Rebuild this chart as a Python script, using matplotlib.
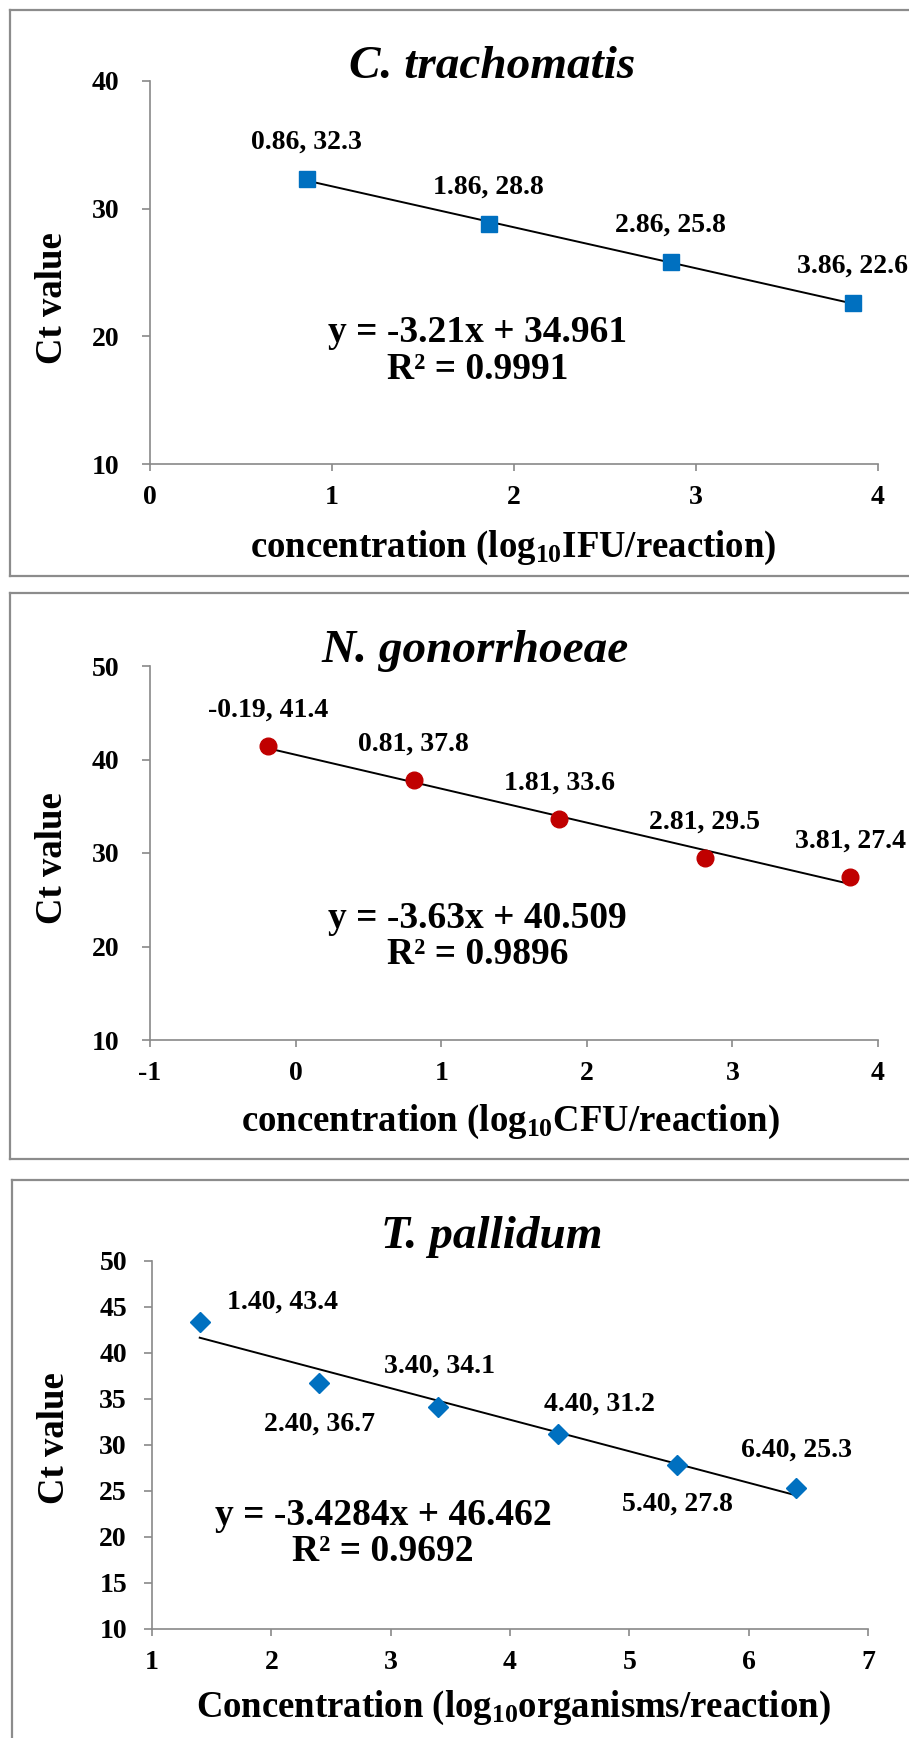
import matplotlib
matplotlib.use("Agg")
import numpy as np
import matplotlib.pyplot as plt
from matplotlib.lines import Line2D

plt.rcParams['font.family'] = ['Liberation Serif', 'DejaVu Serif']
plt.rcParams['font.weight'] = 'bold'
plt.rcParams['axes.unicode_minus'] = False
plt.rcParams['mathtext.fontset'] = 'custom'
plt.rcParams['mathtext.rm'] = 'Liberation Serif:bold'
plt.rcParams['mathtext.it'] = 'Liberation Serif:bold'
plt.rcParams['mathtext.bf'] = 'Liberation Serif:bold'

# data
ct_x = [0.86, 1.86, 2.86, 3.86]
ct_y = [32.3, 28.8, 25.8, 22.6]
ct_fit = (-3.21, 34.961, 0.9991)

ng_x = [-0.19, 0.81, 1.81, 2.81, 3.81]
ng_y = [41.4, 37.8, 33.6, 29.5, 27.4]
ng_fit = (-3.63, 40.509, 0.9896)

tp_x = [1.40, 2.40, 3.40, 4.40, 5.40, 6.40]
tp_y = [43.4, 36.7, 34.1, 31.2, 27.8, 25.3]
tp_fit = (-3.4284, 46.462, 0.9692)

W, H = 909, 1738
fig = plt.figure(figsize=(W / 100, H / 100), dpi=100)
fig.patch.set_facecolor('white')

GRAY = '#898989'
TICK_FS = 20
LABEL_FS = 20
EQ_FS = 27
AX_FS = 26.5
TITLE_FS = 34


def px_axes(l, t, r, b):
    return fig.add_axes([l / W, 1 - b / H, (r - l) / W, (b - t) / H])


def border(l, t, b):
    # left, top and bottom edges; right edge runs off the picture
    kw = dict(color='#8c8c8c', lw=1.6, transform=fig.transFigure)
    r = W + 20
    fig.add_artist(Line2D([l / W, l / W], [1 - t / H, 1 - b / H], **kw))
    fig.add_artist(Line2D([l / W, r / W], [1 - t / H, 1 - t / H], **kw))
    fig.add_artist(Line2D([l / W, r / W], [1 - b / H, 1 - b / H], **kw))


def style(ax, xlim, ylim, xstep, ystep, ypad):
    ax.set_xlim(*xlim)
    ax.set_ylim(*ylim)
    ax.set_xticks(np.arange(xlim[0], xlim[1] + 0.01, xstep))
    ax.set_yticks(np.arange(ylim[0], ylim[1] + 0.01, ystep))
    for s in ['top', 'right']:
        ax.spines[s].set_visible(False)
    for s in ['left', 'bottom']:
        ax.spines[s].set_color(GRAY)
        ax.spines[s].set_linewidth(1.2)
    ax.tick_params(axis='x', direction='out', length=5, width=1.2, color=GRAY,
                   labelsize=TICK_FS, pad=10)
    ax.tick_params(axis='y', direction='out', length=6, width=1.2, color=GRAY,
                   labelsize=TICK_FS, pad=ypad)
    for lab in ax.get_xticklabels() + ax.get_yticklabels():
        lab.set_fontweight('bold')
    ax.patch.set_alpha(0)


def panel(ax, xs, ys, fit, marker, ms, color, offsets):
    slope, icpt, r2 = fit
    xx = np.array([min(xs), max(xs)])
    ax.plot(xx, slope * xx + icpt, color='black', lw=1.4, zorder=2)
    ax.plot(xs, ys, linestyle='none', marker=marker, ms=ms, color=color,
            mec=color, zorder=3, clip_on=False)
    for (x, y), (dx, dy) in zip(zip(xs, ys), offsets):
        ax.annotate(f"{x:.2f}, {y:.1f}", (x, y), xytext=(dx, dy),
                    textcoords='offset pixels', ha='center', va='center',
                    fontsize=LABEL_FS, fontweight='bold', annotation_clip=False)


def equation(ax, fit, x, y):
    ax.text(x, y, f"y = {fit[0]}x + {fit[1]}\nR\u00b2 = {fit[2]}",
            transform=ax.transAxes, ha='center', va='center', fontsize=EQ_FS,
            fontweight='bold', linespacing=1.05)


def labels(title, tx, ty, yx, yy, xlabel, xx, xy):
    fig.text(tx / W, 1 - ty / H, title, ha='center', va='center',
             fontsize=TITLE_FS, fontweight='bold', style='italic')
    fig.text(yx / W, 1 - yy / H, "Ct value", rotation=90, ha='center',
             va='center', fontsize=AX_FS, fontweight='bold')
    fig.text(xx / W, 1 - xy / H, xlabel, ha='center', va='center',
             fontsize=AX_FS, fontweight='bold')


# C. trachomatis
border(10, 10, 576)
ax1 = px_axes(150, 81, 878, 464)
style(ax1, (0, 4), (10, 40), 1, 10, 16)
panel(ax1, ct_x, ct_y, ct_fit, 's', 12, '#0070C0', [(0, 37)] * 4)
equation(ax1, ct_fit, 0.45, 0.295)
labels("C. trachomatis", 492, 67, 52, 298,
       r"concentration (log$_{\mathrm{10}}$IFU/reaction)", 513, 548)

# N. gonorrhoeae
border(10, 593, 1159)
ax2 = px_axes(150, 666, 878, 1040)
style(ax2, (-1, 4), (10, 50), 1, 10, 16)
panel(ax2, ng_x, ng_y, ng_fit, 'o', 12, '#C00000', [(0, 36)] * 5)
equation(ax2, ng_fit, 0.45, 0.277)
labels("N. gonorrhoeae", 475, 651, 52, 858,
       r"concentration (log$_{\mathrm{10}}$CFU/reaction)", 510, 1122)

# T. pallidum
border(12, 1180, H + 20)
ax3 = px_axes(152, 1261, 868, 1629)
style(ax3, (1, 7), (10, 50), 1, 5, 12)
tp_offsets = [(83, 20), (0, -41), (1, 41), (42, 30), (0, -39), (0, 38)]
panel(ax3, tp_x, tp_y, tp_fit, 'D', 10, '#0070C0', tp_offsets)
equation(ax3, tp_fit, 0.323, 0.26)
labels("T. pallidum", 492, 1237, 55, 1438,
       r"Concentration (log$_{\mathrm{10}}$organisms/reaction)", 513, 1708)

fig.savefig("out.png", dpi=100)
